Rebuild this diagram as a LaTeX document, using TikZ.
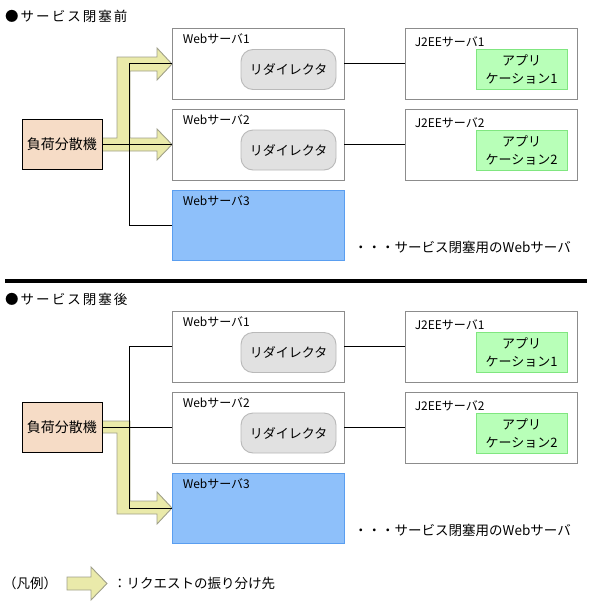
\documentclass[tikz,border=0pt]{standalone}
\usepackage{fontspec}
\setmainfont{Noto Sans CJK JP}
\definecolor{lbfill}{RGB}{246,220,198}
\definecolor{boxline}{RGB}{140,140,140}
\definecolor{spare}{RGB}{142,192,250}
\definecolor{spareline}{RGB}{90,158,240}
\definecolor{rdfill}{RGB}{225,225,225}
\definecolor{rdline}{RGB}{185,185,185}
\definecolor{apfill}{RGB}{184,255,184}
\definecolor{apline}{RGB}{128,230,128}
\definecolor{arfill}{RGB}{234,234,170}
\definecolor{arline}{RGB}{160,160,138}

\begin{document}
\begin{tikzpicture}[x=1pt,y=-1pt]
        \tikzstyle{every node}=[inner sep=0pt, font=\fontsize{12}{14}\selectfont]
        \tikzstyle{lbbox}=[draw=black, line width=0.9pt, fill=lbfill, minimum width=80pt, minimum height=50pt, font=\fontsize{14}{16}\selectfont]
        \tikzstyle{srvbox}=[draw=boxline, line width=0.9pt, fill=white, minimum width=172pt, minimum height=71pt]
        \tikzstyle{sparebox}=[draw=spareline, line width=0.9pt, fill=spare, minimum width=172pt, minimum height=70pt]
        \tikzstyle{rdbox}=[draw=rdline, line width=0.9pt, fill=rdfill, rounded corners=12pt, minimum width=95pt, minimum height=40pt, font=\fontsize{13}{15}\selectfont]
        \tikzstyle{apbox}=[draw=apline, line width=0.9pt, fill=apfill, minimum width=91pt, minimum height=40pt, align=center, font=\fontsize{13}{18}\selectfont]
        \tikzstyle{lbl}=[anchor=west]
        \tikzstyle{note}=[anchor=west, font=\fontsize{13.5}{16}\selectfont]
        \tikzstyle{title}=[anchor=west, font=\fontsize{13.5}{16}\selectfont\addfontfeatures{LetterSpace=15}]
        \tikzstyle{wire}=[draw=black, line width=0.9pt]
        \tikzstyle{flow}=[draw=arline, line width=0.9pt, fill=arfill]

        \useasboundingbox (0,0) rectangle (592,603);

% before: requests go to Web server 1 and 2

        \node[title] (titleA) at (5,16) {●サービス閉塞前};

        \draw[flow] (102,138) -- (117,138) -- (117,57) -- (157,57) -- (157,48) -- (172,64) -- (157,80) -- (157,71)
            -- (130,71) -- (130,138) -- (157,138) -- (157,129) -- (172,144.5) -- (157,160) -- (157,151) -- (102,151) -- cycle;

        \node[lbbox] (lbA) at (62,144.5) {負荷分散機};
        \node[srvbox] (ws1A) at (258,63.5) {};
        \node[srvbox] (ws2A) at (258,144.5) {};
        \node[sparebox] (ws3A) at (258,225) {};
        \node[lbl] (ws1Alabel) at ([shift={(11,11.5)}]ws1A.north west) {Webサーバ1};
        \node[lbl] (ws2Alabel) at ([shift={(11,11.5)}]ws2A.north west) {Webサーバ2};
        \node[lbl] (ws3Alabel) at ([shift={(11,11.5)}]ws3A.north west) {Webサーバ3};
        \node[rdbox] (rd1A) at (288.5,69.5) {リダイレクタ};
        \node[rdbox] (rd2A) at (288.5,150) {リダイレクタ};

        \node[srvbox] (je1A) at (491,63.5) {};
        \node[srvbox] (je2A) at (491,144.5) {};
        \node[lbl] (je1Alabel) at ([shift={(10,14)}]je1A.north west) {J2EEサーバ1};
        \node[lbl] (je2Alabel) at ([shift={(10,14)}]je2A.north west) {J2EEサーバ2};
        \node[apbox] (ap1A) at (521.5,69.5) {アプリ\\ケーション1};
        \node[apbox] (ap2A) at (521.5,150) {アプリ\\ケーション2};

        \draw[wire] (lbA.east) -- (ws2A.west);
        \draw[wire] (ws1A.west) -- ++(-42,0) |- (ws3A.west);
        \draw[wire] (ws1A.east) -- (je1A.west);
        \draw[wire] (ws2A.east) -- (je2A.west);

        \node[note] (noteA) at (354,247) {・・・サービス閉塞用のWebサーバ};

        \draw[line width=4pt] (5,281) -- (587,281);

% after: requests go to Web server 3 only

        \node[title] (titleB) at (5,299) {●サービス閉塞後};

        \draw[flow] (102,421) -- (130,421) -- (130,501) -- (157,501) -- (157,492) -- (172,508) -- (157,524) -- (157,514)
            -- (117,514) -- (117,433) -- (102,433) -- cycle;

        \node[lbbox] (lbB) at (62,427) {負荷分散機};
        \node[srvbox] (ws1B) at (258,346.5) {};
        \node[srvbox] (ws2B) at (258,427.5) {};
        \node[sparebox] (ws3B) at (258,508) {};
        \node[lbl] (ws1Blabel) at ([shift={(11,11.5)}]ws1B.north west) {Webサーバ1};
        \node[lbl] (ws2Blabel) at ([shift={(11,11.5)}]ws2B.north west) {Webサーバ2};
        \node[lbl] (ws3Blabel) at ([shift={(11,11.5)}]ws3B.north west) {Webサーバ3};
        \node[rdbox] (rd1B) at (288.5,352.5) {リダイレクタ};
        \node[rdbox] (rd2B) at (288.5,433) {リダイレクタ};

        \node[srvbox] (je1B) at (491,346.5) {};
        \node[srvbox] (je2B) at (491,427.5) {};
        \node[lbl] (je1Blabel) at ([shift={(10,14)}]je1B.north west) {J2EEサーバ1};
        \node[lbl] (je2Blabel) at ([shift={(10,14)}]je2B.north west) {J2EEサーバ2};
        \node[apbox] (ap1B) at (521.5,352.5) {アプリ\\ケーション1};
        \node[apbox] (ap2B) at (521.5,433) {アプリ\\ケーション2};

        \draw[wire] (lbB.east) -- (lbB.east -| ws2B.west);
        \draw[wire] (ws1B.west) -- ++(-42,0) |- (ws3B.west);
        \draw[wire] (ws1B.east) -- (je1B.west);
        \draw[wire] (ws2B.east) -- (je2B.west);

        \node[note] (noteB) at (354,530) {・・・サービス閉塞用のWebサーバ};

% legend
        \node[note] (legendlbl) at (3,583) {（凡例）};
        \draw[flow] (67,577) -- (91,577) -- (91,567) -- (107,583.5) -- (91,600) -- (91,590) -- (67,590) -- cycle;
        \node[note] (legendtxt) at (113,583) {：リクエストの振り分け先};

    \end{tikzpicture}
\end{document}
